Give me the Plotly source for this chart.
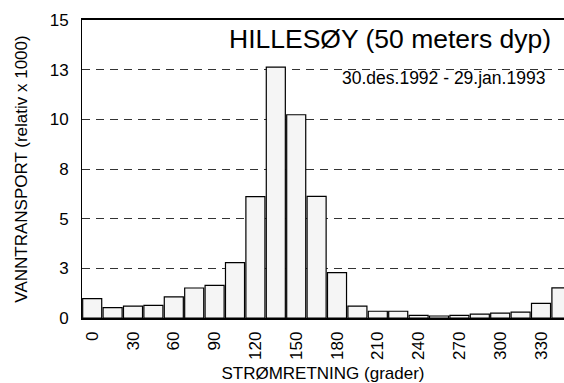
import plotly.graph_objects as go

directions = [0, 15, 30, 45, 60, 75, 90, 105, 120, 135, 150, 165,
              180, 195, 210, 225, 240, 255, 270, 285, 300, 315, 330, 345]
transport = [0.98, 0.52, 0.60, 0.64, 1.06, 1.51, 1.64, 2.79, 6.11, 12.63, 10.23, 6.12,
             2.28, 0.60, 0.34, 0.34, 0.13, 0.10, 0.13, 0.20, 0.25, 0.30, 0.74, 1.52]

x_tickvals = [0, 30, 60, 90, 120, 150, 180, 210, 240, 270, 300, 330]
y_tickvals = [0, 2.5, 5, 7.5, 10, 12.5, 15]
y_ticktext = ["0", "3", "5", "8", "10", "13", "15"]

title_text = "HILLESØY (50 meters dyp)"
subtitle_text = "30.des.1992 - 29.jan.1993"

FONT = "Liberation Sans, Arial, sans-serif"

fig = go.Figure()
fig.add_trace(go.Bar(
    x=directions, y=transport, width=14,
    marker=dict(color="#f5f5f5", line=dict(color="#000000", width=1.2)),
))

fig.update_layout(
    width=564, height=383,
    margin=dict(l=82, r=0, t=20, b=65),
    paper_bgcolor="white", plot_bgcolor="white",
    showlegend=False,
    font=dict(family=FONT, color="#000000", size=17),
)

fig.update_xaxes(
    range=[-7.5, 346.9], automargin=False,
    tickmode="array", tickvals=x_tickvals,
    ticktext=[str(v) for v in x_tickvals],
    tickangle=-90, tickfont=dict(size=17),
    showgrid=False, zeroline=False,
    showline=True, linecolor="#000000", linewidth=1.5, mirror=True,
    ticks="", ticklabelstandoff=5,
    title=dict(text="STRØMRETNING (grader)", font=dict(size=17), standoff=17),
)
fig.update_yaxes(
    range=[0, 15], automargin=False,
    tickmode="array", tickvals=y_tickvals, ticktext=y_ticktext,
    tickfont=dict(size=17),
    showgrid=True, gridcolor="#333333", gridwidth=1, griddash="8px,6px",
    zeroline=False,
    showline=True, linecolor="#000000", linewidth=1,
    ticks="", ticklabelstandoff=9,
    title=dict(text="VANNTRANSPORT (relativ x 1000)", font=dict(size=17), standoff=17),
)

fig.add_annotation(
    text=title_text, xref="paper", yref="paper",
    x=(553 - 82) / 482, y=(318 - 56) / 298,
    xanchor="right", yanchor="bottom", showarrow=False,
    font=dict(size=26.5, family=FONT, color="#000000"),
)
fig.add_annotation(
    text=subtitle_text, xref="paper", yref="paper",
    x=(547 - 82) / 482, y=(318 - 90) / 298,
    xanchor="right", yanchor="bottom", showarrow=False,
    font=dict(size=17.5, family=FONT, color="#000000"),
)

fig.write_html("out.html")
